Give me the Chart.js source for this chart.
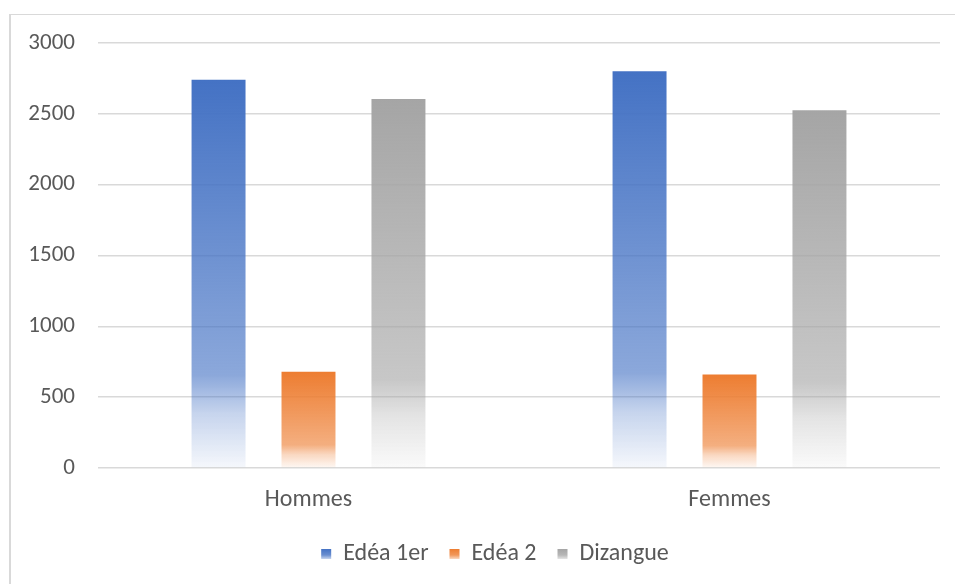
<!DOCTYPE html>
<html>
<head>
<meta charset="utf-8">
<script src="https://cdn.jsdelivr.net/npm/chart.js@4"></script>
<style>
  html, body { margin: 0; padding: 0; background: #fff; overflow: hidden; }
  #wrap { position: relative; width: 955px; height: 584px; }
  #frame { position: absolute; left: 9px; top: 14px; width: 960px; height: 600px; border: 1px solid #d9d9d9; border-left-width: 2px; }
  canvas { position: absolute; left: 0; top: 0; }
</style>
</head>
<body>
<div id="wrap">
  <div id="frame"></div>
  <canvas id="chart" width="955" height="584"></canvas>
</div>
<script>
// data
const categories = ['Hommes', 'Femmes'];
const seriesNames = ['Edéa 1er', 'Edéa 2', 'Dizangue'];
const edea1 = [2740, 2800];
const edea2 = [680, 660];
const dizangue = [2605, 2525];
const yTicks = [0, 500, 1000, 1500, 2000, 2500, 3000];

const baseColors = [[68, 114, 196], [237, 125, 49], [165, 165, 165]];

function rgba(c, a) {
    return 'rgba(' + c[0] + ',' + c[1] + ',' + c[2] + ',' + a + ')';
}

function addStops(g, c) {
    g.addColorStop(0, rgba(c, 1));
    g.addColorStop(0.76, rgba(c, 0.62));
    g.addColorStop(0.86, rgba(c, 0.3));
    g.addColorStop(1, rgba(c, 0.05));
}

// gradient per bar, from bar top down to zero
function barFill(c) {
    return function(context) {
        const chart = context.chart;
        if (!chart.chartArea || context.type !== 'data') {
            return rgba(c, 1);
        }
        const y = chart.scales.y;
        const top = y.getPixelForValue(context.raw);
        const bottom = y.getPixelForValue(0);
        const g = chart.ctx.createLinearGradient(0, top, 0, bottom);
        addStops(g, c);
        return g;
    };
}

// legend sits a bit right of the canvas centre, and its boxes get a small gradient
const legendTweaks = {
    id: 'legendTweaks',
    afterLayout(chart) {
        const legend = chart.legend;
        if (!legend) return;
        legend.left += 15;
        legend.right += 15;
    },
    afterDraw(chart) {
        const legend = chart.legend;
        if (!legend || !legend.legendHitBoxes) return;
        const c2 = chart.ctx;
        legend.legendHitBoxes.forEach((hb, i) => {
            const x = hb.left;
            const y = hb.top + hb.height / 2 - 5;
            c2.save();
            c2.fillStyle = '#fff';
            c2.fillRect(x - 1, y - 1, 12, 12);
            const g = c2.createLinearGradient(0, y, 0, y + 10);
            const c = baseColors[i];
            g.addColorStop(0, rgba(c, 1));
            g.addColorStop(0.6, rgba(c, 0.8));
            g.addColorStop(1, rgba(c, 0.3));
            c2.fillStyle = g;
            c2.fillRect(x, y, 10, 10);
            c2.restore();
        });
    }
};

const values = [edea1, edea2, dizangue];
const datasets = seriesNames.map((name, i) => ({
    label: name,
    data: values[i],
    backgroundColor: barFill(baseColors[i]),
    borderWidth: 0,
    categoryPercentage: 0.641,
    barPercentage: 0.6
}));

Chart.defaults.font.family = "Carlito, Calibri, Lato, 'Open Sans', sans-serif";
Chart.defaults.color = '#595959';

const ctx = document.getElementById('chart').getContext('2d');
new Chart(ctx, {
    type: 'bar',
    data: { labels: categories, datasets: datasets },
    plugins: [legendTweaks],
    options: {
        responsive: false,
        animation: false,
        layout: { padding: { left: 20, right: 15, top: 43, bottom: 8 } },
        scales: {
            x: {
                grid: { display: false },
                border: { display: false },
                ticks: { font: { size: 24 }, color: '#595959', padding: 10 },
                afterFit: function(s) { s.height = 53; }
            },
            y: {
                min: 0,
                max: 3000,
                afterBuildTicks: function(s) { s.ticks = yTicks.map(v => ({ value: v })); },
                grid: { color: '#d9d9d9', lineWidth: 1.5, drawTicks: false },
                border: { display: false },
                ticks: {
                    font: { size: 23 },
                    color: '#595959',
                    padding: 23,
                    callback: function(v) { return String(v); }
                },
                afterFit: function(s) { s.width = 78; }
            }
        },
        plugins: {
            legend: {
                position: 'bottom',
                labels: {
                    boxWidth: 10,
                    boxHeight: 10,
                    font: { size: 24 },
                    color: '#595959',
                    padding: 21
                }
            },
            tooltip: { enabled: false }
        }
    }
});
</script>
</body>
</html>
